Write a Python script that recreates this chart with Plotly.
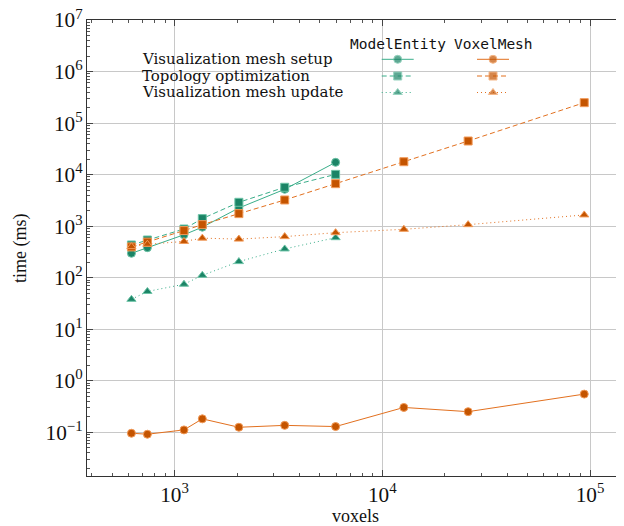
import plotly.graph_objects as go

# ---- data ----
voxels = [620, 740, 1110, 1360, 2040, 3390, 5960, 12700, 25900, 93800]
me_setup = [297, 382, 680, 955, 2250, 5190, 17300]
me_topo = [431, 538, 880, 1400, 2900, 5680, 10100]
me_update = [38, 54, 74.5, 111, 205, 361, 597]
vm_setup = [0.0957, 0.0916, 0.111, 0.182, 0.125, 0.136, 0.129, 0.303, 0.251, 0.55]
vm_topo = [395, 490, 820, 1070, 1750, 3220, 6670, 17800, 44900, 249000]
vm_update = [400, 445, 505, 585, 560, 626, 747, 868, 1069, 1650]

series_names = ["Visualization mesh setup", "Topology optimization", "Visualization mesh update"]
group_names = ["ModelEntity", "VoxelMesh"]
label_alias = {"1": "10<sup>0</sup>", "10": "10<sup>1</sup>"}

# ---- style ----
GREEN_LINE = "#3aae8a"
GREEN_FILL = "#1b8466"
GREEN_EDGE = "#6cc3a6"
ORANGE_LINE = "#e2701f"
ORANGE_FILL = "#c45400"
ORANGE_EDGE = "#f29a58"
SERIF = "Liberation Serif"
LEG_SERIF = "DejaVu Serif"
MONO = "DejaVu Sans Mono"

styles = [
    dict(dash="solid", symbol="circle", size=8),
    dict(dash="5px,3px", symbol="square", size=8),
    dict(dash="1px,3px", symbol="triangle-up", size=8),
]

# page body has an 8px margin: work in window pixels and shift
OFF = 8
W, H = 624 - OFF, 526 - OFF
L, R, T, B = 87, 622, 20, 476  # plot area in window pixels

def px(xp):
    return (xp - L) / (R - L)

def py(yp):
    return (B - yp) / (B - T)

fig = go.Figure()

def add_series(x, y, st, lc, fc, ec, xaxis="x", yaxis="y"):
    fig.add_trace(go.Scatter(
        x=x, y=y, mode="lines+markers", xaxis=xaxis, yaxis=yaxis,
        line=dict(color=lc, width=1, dash=st["dash"]),
        marker=dict(symbol=st["symbol"], size=st["size"], color=fc,
                    line=dict(color=ec, width=1)),
        showlegend=False, hoverinfo="skip"))

n_me = len(me_setup)
me_x = voxels[:n_me]
for vals, st in zip([me_setup, me_topo, me_update], styles):
    add_series(me_x, vals, st, GREEN_LINE, GREEN_FILL, GREEN_EDGE)
for vals, st in zip([vm_setup, vm_topo, vm_update], styles):
    add_series(voxels, vals, st, ORANGE_LINE, ORANGE_FILL, ORANGE_EDGE)

# ---- legend samples drawn on an overlay axis in paper units ----
rows_y = [59.3, 76, 92.5]
cols = [(397.7, GREEN_LINE, GREEN_FILL, GREEN_EDGE), (493, ORANGE_LINE, ORANGE_FILL, ORANGE_EDGE)]
for ry, st in zip(rows_y, styles):
    for cx, lc, fc, ec in cols:
        fig.add_trace(go.Scatter(
            x=[px(cx - 16), px(cx), px(cx + 16)], y=[py(ry)] * 3, mode="lines+markers",
            xaxis="x2", yaxis="y2",
            line=dict(color=lc, width=1, dash=st["dash"]),
            marker=dict(symbol=st["symbol"], size=[0, st["size"], 0], color=fc,
                        line=dict(color=ec, width=[0, 1, 0])),
            showlegend=False, hoverinfo="skip"))

annotations = []
for name, ry in zip(series_names, rows_y):
    annotations.append(dict(x=px(140), y=py(ry), xref="paper", yref="paper", text=name,
                            showarrow=False, xanchor="left", yanchor="middle",
                            font=dict(family=LEG_SERIF, size=15, color="#111")))
for gname, (cx, *_r) in zip(group_names, cols):
    annotations.append(dict(x=px(cx), y=py(43.5), xref="paper", yref="paper", text=gname,
                            showarrow=False, xanchor="center", yanchor="middle",
                            font=dict(family=MONO, size=14.5, color="#111")))
# axis titles
annotations.append(dict(x=px(20), y=py(248), xref="paper", yref="paper", text="time (ms)",
                        textangle=-90, showarrow=False, xanchor="center", yanchor="middle",
                        font=dict(family=SERIF, size=18, color="#111")))
annotations.append(dict(x=px((L + R) / 2 + 0.5), y=py(516), xref="paper", yref="paper", text="voxels",
                        showarrow=False, xanchor="center", yanchor="middle",
                        font=dict(family=SERIF, size=18, color="#111")))

shapes = [dict(type="rect", xref="paper", yref="paper", x0=px(125), x1=px(543),
               y0=py(21), y1=py(108.5),
               fillcolor="white", line=dict(width=0), layer="below")]

axis_common = dict(
    type="log", showline=True, linecolor="#333", linewidth=1, mirror="ticks",
    ticks="inside", ticklen=6, tickcolor="#444", tickwidth=1,
    tickmode="linear", tick0=0, dtick=1, exponentformat="power", showexponent="all",
    labelalias=label_alias,
    showgrid=True, gridcolor="#c8c8c8", gridwidth=1, zeroline=False,
    tickfont=dict(family=SERIF, size=17, color="#111"),
    minor=dict(ticks="inside", ticklen=3, tickcolor="#555", tickwidth=0.8, showgrid=False),
    ticklabeloverflow="allow", layer="below traces",
)

fig.update_layout(
    width=W, height=H,
    margin=dict(l=L - OFF, r=W - (R - OFF), t=T - OFF, b=H - (B - OFF), pad=0, autoexpand=False),
    paper_bgcolor="white", plot_bgcolor="white",
    xaxis=dict(range=[2.5785, 5.154], ticklabelstandoff=0, automargin=False, **axis_common),
    yaxis=dict(range=[-1.849, 7.0005], ticklabelstandoff=0, automargin=False, **axis_common),
    xaxis2=dict(range=[0, 1], overlaying="x", visible=False, fixedrange=True),
    yaxis2=dict(range=[0, 1], overlaying="y", visible=False, fixedrange=True),
    annotations=annotations, shapes=shapes, showlegend=False,
)

fig.write_html("out.html", config={"displayModeBar": False})
